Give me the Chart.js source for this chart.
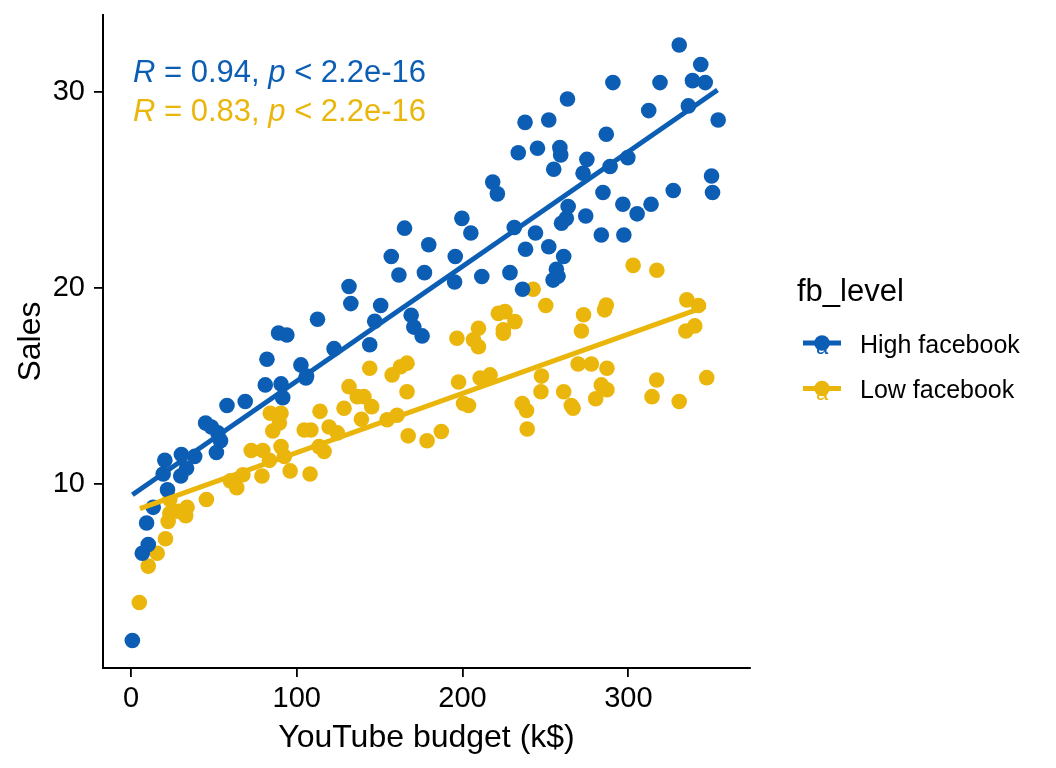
<!DOCTYPE html>
<html><head><meta charset="utf-8">
<script src="https://cdn.jsdelivr.net/npm/chart.js@4/dist/chart.umd.min.js"></script>
<style>html,body{margin:0;padding:0;background:#fff}canvas{display:block}</style>
</head><body>
<canvas id="c" width="1056" height="768"></canvas>
<script>
const groups = ['High facebook', 'Low facebook'];
const legendTitle = 'fb_level';
const xTitle = 'YouTube budget (k$)';
const yTitle = 'Sales';
const xTicks = [0, 100, 200, 300];
const yTicks = [10, 20, 30];
const corrR = ['0.94', '0.83'];
const corrP = ['2.2e-16', '2.2e-16'];

const highX = [0.8,9.4,6.8,10.4,22,13.4,20.4,19.4,30.4,33.5,30,38.4,45,48.5,52.4,54,51.5,57.9,68.9,81,90.5,91.5,105.5,165,179.6,157,161.6,177,131.5,132.6,150.6,147,112.5,89,94,169,170.6,175.6,144,122.5,82,102.5,105.9,218.2,221,255,272.7,199.6,205,195.6,195.2,211.6,228.6,231.2,244,238,252,261,263.7,262.6,259.7,256.6,254.6,257.6,236.2,330.7,343.7,338.7,346.4,319.1,290.7,263.3,312.3,336.2,354.2,237.7,252,286.7,233.6,245.2,258.7,259.2,275,289,299.7,284.7,327.1,350.2,350.8,274.3,296.7,305.3,313.7,283.7,297.3];
const highY = [2.0,8.0,6.46,6.9,9.7,8.8,11.2,10.5,11.5,10.8,10.4,11.4,13.1,12.9,12.6,12.2,11.6,14.0,14.2,15.05,15.1,14.4,15.4,23.05,22.2,21.6,20.66,20.78,20.07,19.2,19.1,18.3,18.4,17.7,17.6,18.6,18.0,17.55,17.1,16.9,16.36,16.07,15.5,25.4,24.8,26.06,25.85,23.55,22.8,21.6,20.3,20.58,20.78,23.08,22.8,21.97,22.1,21.6,24.15,23.55,23.3,20.95,20.4,20.6,19.93,32.4,31.4,30.58,30.48,30.48,30.48,29.64,29.05,29.29,28.57,28.45,28.57,27.84,26.9,27.13,27.16,26.79,26.56,26.2,26.65,24.87,24.97,25.71,24.87,23.67,24.27,23.78,24.27,22.7,22.7];
const lowX = [5,10.4,15.8,20.8,23.4,22.4,28.4,33,33.8,23.4,45.5,63.8,60,67.5,79,72.5,79.5,83.5,90.5,92.5,96,84,90.5,85.5,89.5,104.5,108.5,108,114,166.5,162.6,157.5,144,166.5,131.5,136.5,140.5,145.2,128.5,139,154.5,160.5,167.2,178.6,119.5,124.5,113.5,116.5,242.6,250.2,273,271.7,269.7,221.6,225.6,231.6,224.6,224.6,196.6,209.6,206.6,209.6,197.6,210.6,216.6,247.6,247.3,261,265.6,266.7,200.6,203.6,236,238.6,239,187.2,302.9,317.2,286.7,285.7,335.3,342.3,340.1,334.7,277.7,287.1,283.7,287.1,280.3,317.1,314.3,330.7,347.3];
const lowY = [3.94,5.8,6.46,7.2,9.2,8.08,8.6,8.37,8.8,8.5,9.2,9.8,10.15,10.46,10.4,11.7,11.7,11.2,11.9,11.4,10.66,13.6,13.6,12.7,13.1,12.75,12.75,10.5,13.7,16.16,15.98,15.56,15.9,14.7,14.96,14.45,14.45,13.94,13.86,13.3,13.27,13.5,12.45,12.2,12.9,12.6,11.9,11.65,19.93,19.1,18.63,17.8,16.12,18.7,18.79,18.28,17.86,17.69,17.43,17.94,17.35,17.0,15.2,15.4,15.56,15.5,14.7,14.7,14.0,13.86,14.1,14.0,14.1,13.74,12.8,12.67,21.15,20.9,19.13,18.88,19.39,19.1,18.06,17.8,16.12,15.9,15.05,14.8,14.34,15.3,14.45,14.2,15.42];
const highFitX = [0.84, 353.8];
const highFitY = [9.44, 30.1];
const lowFitX = [5.4, 346.5];
const lowFitY = [8.74, 19.05];

const colors = ['#0B5EB4', '#EBB60C'];
const FONT = '"Liberation Sans", Arial, Helvetica, sans-serif';

const pts = (xs, ys) => xs.map((x, i) => ({x: x, y: ys[i]}));

const overlay = {
  id: 'overlay',
  afterDraw(chart) {
    const ctx = chart.ctx;
    ctx.save();
    const fs = 31;
    [0, 1].forEach(i => {
      let x = 133;
      const y = 82 + i * 39;
      ctx.fillStyle = colors[i];
      ctx.textBaseline = 'alphabetic';
      ctx.textAlign = 'left';
      const segs = [['R', true], [' = ' + corrR[i] + ', ', false], ['p', true], [' < ' + corrP[i], false]];
      segs.forEach(([t, it]) => {
        ctx.font = (it ? 'italic ' : '') + fs + 'px ' + FONT;
        ctx.fillText(t, x, y);
        x += ctx.measureText(t).width;
      });
    });
    ctx.fillStyle = '#000';
    ctx.textBaseline = 'alphabetic';
    ctx.textAlign = 'left';
    ctx.font = '31px ' + FONT;
    ctx.fillText(legendTitle, 797, 301);
    groups.forEach((g, i) => {
      const cy = 343 + i * 45.5;
      ctx.strokeStyle = colors[i];
      ctx.lineWidth = 5;
      ctx.beginPath(); ctx.moveTo(803, cy); ctx.lineTo(841, cy); ctx.stroke();
      ctx.fillStyle = colors[i];
      ctx.beginPath(); ctx.arc(822, cy, 7.8, 0, Math.PI * 2); ctx.fill();
      ctx.font = '22px ' + FONT;
      ctx.textAlign = 'center';
      ctx.fillText('a', 822, cy + 11);
      ctx.textAlign = 'left';
      ctx.fillStyle = '#000';
      ctx.font = '25px ' + FONT;
      ctx.fillText(g, 860, cy + 9.5);
    });
    ctx.restore();
  }
};

new Chart(document.getElementById('c'), {
  type: 'scatter',
  data: {
    datasets: [
      {type: 'line', label: groups[0] + ' fit', data: pts(highFitX, highFitY), borderColor: colors[0], borderWidth: 5, pointRadius: 0, fill: false, order: 0},
      {type: 'line', label: groups[1] + ' fit', data: pts(lowFitX, lowFitY), borderColor: colors[1], borderWidth: 5, pointRadius: 0, fill: false, order: 0},
      {label: groups[0], data: pts(highX, highY), backgroundColor: colors[0], borderWidth: 0, pointRadius: 7.8, order: 1},
      {label: groups[1], data: pts(lowX, lowY), backgroundColor: colors[1], borderWidth: 0, pointRadius: 7.8, order: 2}
    ]
  },
  options: {
    responsive: false,
    animation: false,
    layout: {padding: {left: 0, right: 306, top: 15, bottom: 0}},
    plugins: {legend: {display: false}, tooltip: {enabled: false}},
    scales: {
      x: {
        type: 'linear', min: -16.9, max: 373.4,
        afterBuildTicks: (s) => { s.ticks = xTicks.map(v => ({value: v})); },
        afterFit: (s) => { s.height = 100; s.paddingLeft = 0; s.paddingRight = 0; },
        grid: {display: true, drawOnChartArea: false, drawTicks: true, tickLength: 9, color: '#000', lineWidth: 1.8},
        border: {display: true, color: '#000', width: 2},
        ticks: {color: '#000', font: {family: FONT, size: 29}, padding: 5, maxRotation: 0},
        title: {display: true, text: xTitle, color: '#000', font: {family: FONT, size: 32}, padding: {bottom: 11}}
      },
      y: {
        type: 'linear', min: 0.6, max: 33.93,
        afterBuildTicks: (s) => { s.ticks = yTicks.map(v => ({value: v})); },
        afterFit: (s) => { s.width = 103; s.paddingTop = 0; s.paddingBottom = 0; },
        grid: {display: true, drawOnChartArea: false, drawTicks: true, tickLength: 9, color: '#000', lineWidth: 1.8},
        border: {display: true, color: '#000', width: 2},
        ticks: {color: '#000', font: {family: FONT, size: 29}, padding: 9},
        title: {display: true, text: yTitle, color: '#000', font: {family: FONT, size: 32}, padding: {top: 12}}
      }
    }
  },
  plugins: [overlay]
});
</script>
</body></html>
